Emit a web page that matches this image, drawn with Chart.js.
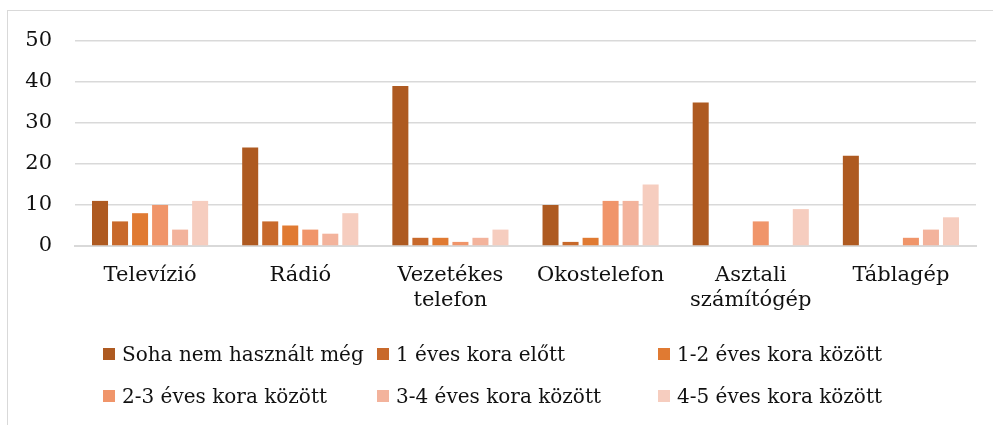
<!DOCTYPE html>
<html>
<head>
<meta charset="utf-8">
<script src="https://cdn.jsdelivr.net/npm/chart.js@4"></script>
<style>
  html, body { margin: 0; padding: 0; background: #fff; }
  #wrap { position: relative; width: 993px; height: 425px; overflow: hidden; }
  #frame {
    position: absolute; left: 7px; top: 10px; right: -5px; bottom: -5px;
    border-left: 1.5px solid #d9d9d9; border-top: 1.5px solid #d9d9d9;
  }
  #chart-box { position: absolute; left: 0; top: 0; width: 993px; height: 425px; }
  #legend {
    position: absolute; left: 103px; top: 340px;
    display: grid; grid-template-columns: 274px 281px 300px; row-gap: 15px;
    font-family: "DejaVu Serif", serif; font-size: 20px; color: #111;
  }
  .item { display: flex; align-items: center; white-space: nowrap; height: 27px; }
  .swatch { width: 12px; height: 12px; margin-right: 7px; flex: none; }
</style>
</head>
<body>
<div id="wrap">
  <div id="frame"></div>
  <div id="chart-box"><canvas id="usage"></canvas></div>
  <div id="legend"></div>
</div>
<script>
const categories = [
  "Televízió",
  "Rádió",
  ["Vezetékes", "telefon"],
  "Okostelefon",
  ["Asztali", "számítógép"],
  "Táblagép",
];

const seriesNames = [
  "Soha nem használt még",
  "1 éves kora előtt",
  "1-2 éves kora között",
  "2-3 éves kora között",
  "3-4 éves kora között",
  "4-5 éves kora között",
];

const neverUsed = [11, 24, 39, 10, 35, 22];
const beforeOne = [6, 6, 2, 1, 0, 0];
const oneToTwo = [8, 5, 2, 2, 0, 0];
const twoToThree = [10, 4, 1, 11, 6, 2];
const threeToFour = [4, 3, 2, 11, 0, 4];
const fourToFive = [11, 8, 4, 15, 9, 7];

const yTicks = [0, 10, 20, 30, 40, 50];

const seriesValues = [neverUsed, beforeOne, oneToTwo, twoToThree, threeToFour, fourToFive];
const seriesColors = ["#ae5a21", "#c8692b", "#e07a32", "#f0956a", "#f3b39c", "#f6cdbf"];

const font = { family: "DejaVu Serif", size: 21 };
const gridColor = "#d9d9d9";

new Chart(document.querySelector("#usage"), {
  type: "bar",
  data: {
    labels: categories,
    datasets: seriesNames.map((name, i) => ({
      label: name,
      data: seriesValues[i],
      backgroundColor: seriesColors[i],
      categoryPercentage: 0.8,
      barPercentage: 0.8,
    })),
  },
  options: {
    responsive: true,
    maintainAspectRatio: false,
    animation: false,
    layout: { padding: { top: 41, right: 17, bottom: 109, left: 0 } },
    plugins: { legend: { display: false }, tooltip: { enabled: false } },
    scales: {
      x: {
        grid: { display: false, drawTicks: false },
        border: { color: gridColor, width: 2 },
        ticks: { font, color: "#111", padding: 17, maxRotation: 0, autoSkip: false },
        afterFit: (s) => { s.height = 70; },
      },
      y: {
        min: 0,
        max: 50,
        afterBuildTicks: (s) => { s.ticks = yTicks.map((v) => ({ value: v })); },
        grid: { color: gridColor, lineWidth: 1.5, drawTicks: false },
        border: { display: false },
        ticks: { font, color: "#111", padding: 23 },
        afterFit: (s) => { s.width = 75; },
      },
    },
  },
});

document.querySelector("#legend").innerHTML = seriesNames
  .map(
    (name, i) => `
      <div class="item">
        <span class="swatch" style="background:${seriesColors[i]}"></span>
        <span>${name}</span>
      </div>
    `,
  )
  .join("");
</script>
</body>
</html>
